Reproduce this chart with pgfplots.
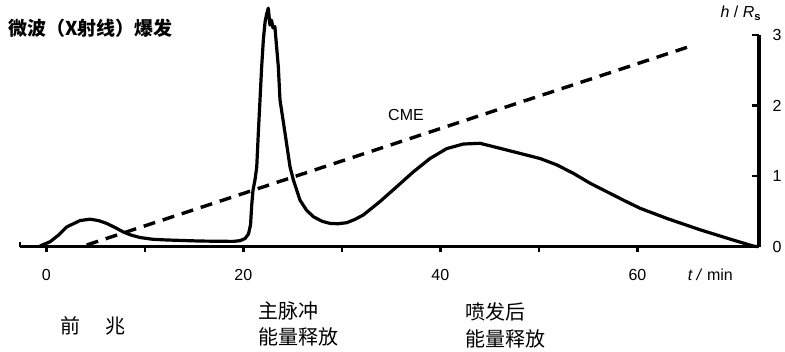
\documentclass[border=0pt]{standalone}
\usepackage{fontspec}
\setmainfont{Liberation Sans}
\newfontfamily\cjk{Noto Sans CJK SC}
\usepackage{pgfplots}
\pgfplotsset{compat=1.18}
\begin{document}
\begin{tikzpicture}
\useasboundingbox (-20pt,-105.3pt) rectangle (765pt,246.7pt);
\begin{axis}[
 scale only axis, width=739pt, height=211.7pt,
 xmin=-2.67, xmax=72.34, ymin=0, ymax=3,
 axis x line=bottom, axis y line=right,
 axis line style={-, line width=3.2pt},
 clip=false,
 xtick={0,20,40,60}, ytick={0,1,2,3},
 major tick length=0pt,
 tick label style={font=\fontsize{16}{18}\selectfont},
 /pgf/number format/assume math mode=true,
 xticklabel style={yshift=-19pt},
 yticklabel style={xshift=10pt},
]
\pgfplotsinvokeforeach{0,10,20,30,40,50,60}{\draw[line width=2.5pt] (axis cs:#1,0) -- ++(0pt,-5pt);}
\pgfplotsinvokeforeach{1,2,3}{\draw[line width=2.5pt] (axis cs:72.34,#1) -- ++(-7pt,0pt);}
\draw[line width=2.5pt] (axis cs:-2.67,0) -- ++(0pt,5pt);
\addplot[black, line width=3.2pt, line join=round, mark=none] coordinates {
(-0.64,0.01)(0.38,0.07)(1.2,0.16)(2.07,0.28)(3.42,0.37)(4.44,0.39)(5.3,0.37)(6.13,0.33)
(7.0,0.27)(7.79,0.21)(8.6,0.165)(9.51,0.13)(10.8,0.105)(12.25,0.095)(15.6,0.08)(18.95,0.075)
(19.66,0.085)(20.17,0.115)(20.52,0.18)(20.73,0.31)(20.85,0.59)(20.98,0.80)(21.18,0.945)
(21.36,1.13)(21.52,1.61)(21.69,2.08)(21.86,2.55)(22.03,2.93)(22.2,3.18)(22.37,3.30)(22.53,3.38)
(22.70,3.14)(22.86,3.21)(23.01,3.10)(23.2,3.12)(23.55,2.55)(23.72,2.08)(24.23,1.61)(24.74,1.13)
(25.07,0.95)(25.75,0.66)(26.4,0.52)(27.10,0.425)(28.0,0.36)(28.80,0.33)(29.6,0.325)(30.49,0.34)
(31.3,0.385)(32.18,0.45)(33.87,0.64)(35.57,0.85)(37.25,1.06)(38.95,1.25)(40.64,1.39)(42.33,1.455)
(44.02,1.465)(45.04,1.43)(46.73,1.37)(48.42,1.31)(50.11,1.25)(51.81,1.16)(53.49,1.04)(55.19,0.90)
(56.88,0.78)(58.57,0.66)(60.26,0.545)(63.0,0.40)(66.35,0.24)(69.7,0.095)(71.73,0.01)(72.2,0)
};
\addplot[black, line width=3.4pt, dash pattern=on 12pt off 8pt, mark=none] coordinates {(4.1,0.024)(65.8,2.86)};
\node[anchor=west, inner sep=0, font=\cjk\bfseries\fontsize{19}{22}\selectfont] at (axis cs:-3.89,3.10) {微波（X射线）爆发};
\node[inner sep=0, font=\fontsize{16}{18}\selectfont] at (axis cs:70.5,3.31) {\textit{h} / \textit{R}\textsubscript{\textbf{s}}};
\node[inner sep=0, font=\fontsize{16}{18}\selectfont] at (axis cs:67.4,-0.40) {\textit{t /} min};
\node[inner sep=0, font=\fontsize{16}{18}\selectfont] at (axis cs:36.51,1.866) {CME};
\node[inner sep=0, font=\cjk\fontsize{20}{22}\selectfont] at (axis cs:4.74,-1.124) {前\hspace{26pt}兆};
\node[anchor=west, inner sep=0, font=\cjk\fontsize{20}{22}\selectfont] at (axis cs:21.5,-0.913) {主脉冲};
\node[anchor=west, inner sep=0, font=\cjk\fontsize{20}{22}\selectfont] at (axis cs:21.5,-1.28) {能量释放};
\node[anchor=west, inner sep=0, font=\cjk\fontsize{20}{22}\selectfont] at (axis cs:42.5,-0.92) {喷发后};
\node[anchor=west, inner sep=0, font=\cjk\fontsize{20}{22}\selectfont] at (axis cs:42.5,-1.30) {能量释放};
\end{axis}
\end{tikzpicture}
\end{document}
